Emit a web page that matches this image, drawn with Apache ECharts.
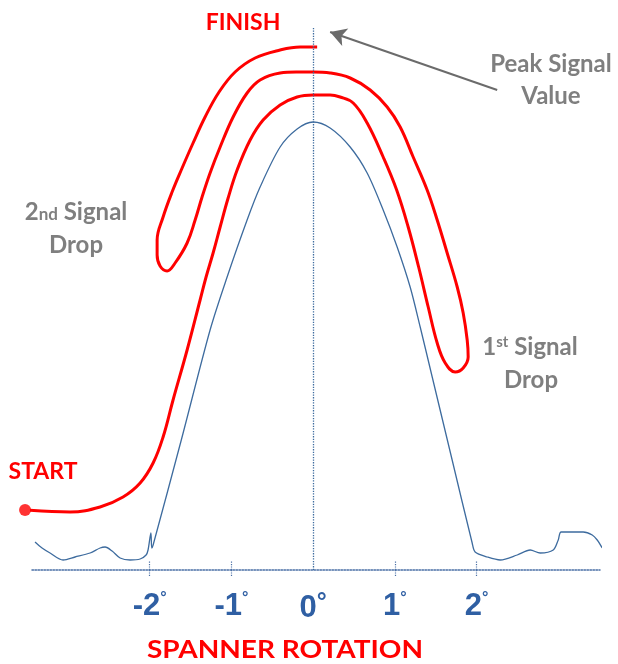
<!DOCTYPE html>
<html><head><meta charset="utf-8">
<script src="https://cdn.jsdelivr.net/npm/echarts@6/dist/echarts.min.js"></script>
<style>html,body{margin:0;padding:0;background:#fff}#c{width:618px;height:664px}</style>
</head><body><div id="c"></div>
<script>
// Axis ticks / labels (degrees of spanner rotation)
const xTickValues = [-2, -1, 1, 2];
const xLabelValues = [-2, -1, 0, 1, 2];

// Blue measured signal: [rotation in degrees, signal level]
const blueSignal = [
  [-3.403,5.6],[-3.317,4.4],[-3.219,3.4],[-3.060,2.0],[-2.913,2.6],[-2.729,3.4],
  [-2.607,4.4],[-2.546,4.6],[-2.460,3.8],[-2.362,2.4],[-2.240,2.0],[-2.117,2.2],
  [-2.044,3.0],[-2.020,4.0],[-1.985,7.4],[-1.975,4.4],[-1.958,5.0],[-1.610,26.2],
  [-1.261,48.0],[-1.065,58.0],[-0.808,70.0],[-0.649,76.6],[-0.404,84.6],
  [-0.196,88.2],[0,89.6],
  [0.208,88.4],[0.453,84.6],[0.661,79.4],[0.857,72.0],[1.028,64.6],[1.187,56.6],
  [1.310,48.6],[1.457,38.6],[1.701,22.0],[1.946,5.4],[1.982,3.6],[2.130,2.6],[2.289,2.0],
  [2.497,3.0],[2.656,4.0],[2.778,3.4],[2.938,4.0],[2.999,6.0],[3.035,7.6],
  [3.305,7.6],[3.415,7.0],[3.476,6.0],[3.537,4.4]
];

// Red tightening path: START -> peak -> 1st drop -> peak -> 2nd drop -> FINISH
const redPath = [
  [-3.525,12.0],[-2.974,11.6],[-2.607,12.6],[-2.326,14.6],[-2.117,17.4],[-1.958,21.4],
  [-1.836,26.6],[-1.714,34.0],[-1.542,44.0],[-1.383,54.0],[-1.310,58.6],[-1.224,63.4],
  [-1.138,68.6],[-1.040,74.4],[-0.930,80.0],[-0.771,86.0],[-0.612,90.0],[-0.404,93.0],
  [-0.196,94.6],[0,95.0],[0.208,95.0],[0.330,94.6],[0.490,93.4],[0.661,89.4],
  [0.857,82.6],[1.022,76.0],[1.163,68.6],[1.291,60.6],[1.408,52.6],[1.518,45.4],
  [1.616,41.4],[1.738,39.6],[1.836,40.4],[1.897,42.6],[1.885,46.0],[1.836,51.4],
  [1.763,56.6],[1.640,63.4],[1.518,70.0],[1.395,76.0],[1.224,82.6],[1.065,88.6],
  [0.906,92.6],[0.698,96.0],[0.453,98.4],[0.208,99.4],[0,99.6],[-0.208,99.6],
  [-0.404,99.4],[-0.649,98.0],[-0.808,95.4],[-0.979,90.6],[-1.138,84.6],[-1.261,79.4],
  [-1.359,74.6],[-1.444,70.0],[-1.542,65.4],[-1.689,61.4],[-1.787,59.8],[-1.873,60.8],
  [-1.909,63.0],[-1.909,66.0],[-1.836,70.6],[-1.726,75.6],[-1.603,80.4],[-1.469,85.4],
  [-1.322,90.6],[-1.151,95.6],[-0.955,99.6],[-0.710,102.4],[-0.404,104.0],[-0.159,104.6],
  [0.049,104.6]
];

// Annotation arrow pointing at the peak signal: [from, to]
const peakArrow = [[2.252, 96.0], [0.208, 107.6]];

const chart = echarts.init(document.getElementById('c'), null, {renderer: 'canvas'});
const annFont = 'Lato, "Open Sans", sans-serif';
const gray = '#7f7f7f';
const red = '#ff0000';
const axisBlue = '#4a6fa5';
const lblFont = '"Liberation Sans", Arial, sans-serif';

chart.setOption({
  animation: false,
  backgroundColor: '#fff',
  grid: {left: 32, right: 18, top: 28, bottom: 94},
  xAxis: [{
    type: 'value', min: -3.44, max: 3.51,
    splitLine: {show: false},
    axisLine: {show: true, onZero: false, lineStyle: {color: axisBlue, width: 1.5, type: 'dotted'}},
    axisTick: {show: true, customValues: xTickValues, length: 7, lineStyle: {color: axisBlue, width: 1.2, type: 'dotted'}},
    axisLabel: {
      show: true, customValues: xLabelValues, margin: 21,
      formatter: v => v === 0 ? '{n|0}{z|°}' : '{n|' + v + '}{d|°}',
      rich: {
        n: {fontSize: 31, fontWeight: 'bold', fontFamily: lblFont, color: '#2f5fa3', verticalAlign: 'bottom'},
        d: {fontSize: 16, fontWeight: 'bold', fontFamily: lblFont, color: '#2f5fa3', verticalAlign: 'top', padding: [0,0,12,0]},
        z: {fontSize: 25, fontWeight: 'bold', fontFamily: lblFont, color: '#2f5fa3', verticalAlign: 'top', padding: [0,0,8,0]}
      }
    }
  }, {
    type: 'value', min: -3.44, max: 3.51, position: 'bottom',
    splitLine: {show: false}, axisLine: {show: false}, axisLabel: {show: false},
    axisTick: {show: true, inside: true, customValues: xTickValues, length: 9, lineStyle: {color: axisBlue, width: 1.2, type: 'dotted'}}
  }],
  yAxis: {type: 'value', min: 0, max: 108.4, show: false, splitLine: {show: false}},
  series: [
    {
      type: 'line', data: blueSignal, smooth: 0.3, showSymbol: false, clip: false,
      lineStyle: {color: '#3d6b9e', width: 1.3}, z: 2,
      markLine: {
        silent: true, symbol: 'none', label: {show: false},
        lineStyle: {color: '#3d6b9e', type: 'dotted', width: 1.3},
        data: [{xAxis: 0}]
      }
    },
    {
      type: 'line', data: redPath, smooth: 0.4, showSymbol: false, clip: false,
      lineStyle: {color: red, width: 3}, z: 3
    },
    {
      type: 'scatter', data: [redPath[0]], symbolSize: 12, clip: false,
      itemStyle: {color: red}, z: 4,
      markLine: {
        silent: true, symbol: ['none', 'arrow'], symbolSize: [14, 16],
        label: {show: false},
        lineStyle: {color: '#6b6b6b', width: 2, type: 'solid'},
        data: [[{coord: peakArrow[0]}, {coord: peakArrow[1]}]]
      }
    }
  ],
  graphic: [
    {type: 'text', x: 243, y: 23, style: {text: 'FINISH', font: 'bold 23px ' + annFont, fill: red, align: 'center', verticalAlign: 'middle'}},
    {type: 'text', x: 43, y: 472, style: {text: 'START', font: 'bold 23px ' + annFont, fill: red, align: 'center', verticalAlign: 'middle'}},
    {type: 'text', x: 76, y: 212, style: {text: '{a|2}{b|nd}{a| Signal}', align: 'center', verticalAlign: 'middle',
      rich: {a: {font: 'bold 24px ' + annFont, fill: gray, verticalAlign: 'bottom'}, b: {font: 'bold 17px ' + annFont, fill: gray, verticalAlign: 'bottom', padding: [0,0,1,0]}}}},
    {type: 'text', x: 76, y: 245, style: {text: 'Drop', font: 'bold 24px ' + annFont, fill: gray, align: 'center', verticalAlign: 'middle'}},
    {type: 'text', x: 530, y: 347, style: {text: '{a|1}{b|st}{a| Signal}', align: 'center', verticalAlign: 'middle',
      rich: {a: {font: 'bold 24px ' + annFont, fill: gray, verticalAlign: 'bottom'}, b: {font: 'bold 15px ' + annFont, fill: gray, verticalAlign: 'top'}}}},
    {type: 'text', x: 531, y: 380, style: {text: 'Drop', font: 'bold 24px ' + annFont, fill: gray, align: 'center', verticalAlign: 'middle'}},
    {type: 'text', x: 551, y: 64, style: {text: 'Peak Signal', font: 'bold 24px ' + annFont, fill: gray, align: 'center', verticalAlign: 'middle'}},
    {type: 'text', x: 551, y: 96, style: {text: 'Value', font: 'bold 24px ' + annFont, fill: gray, align: 'center', verticalAlign: 'middle'}},
    {type: 'text', x: 285, y: 650, scaleX: 1.12, style: {text: 'SPANNER ROTATION', font: 'bold 25px ' + annFont, fill: red, align: 'center', verticalAlign: 'middle'}}
  ]
});
</script>
</body></html>
